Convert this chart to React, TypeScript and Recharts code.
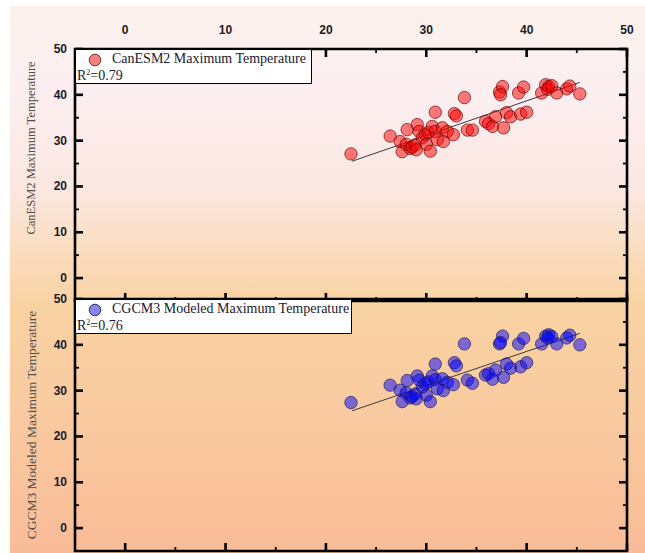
import React from "react";
import { ScatterChart, Scatter, XAxis, YAxis, ReferenceArea, ReferenceLine, Legend } from "recharts";

// ---- data ----
const X_VALUES = [22.5, 26.4, 27.4, 27.6, 28.1, 28.0, 28.4, 28.6, 28.9, 29.0, 29.1, 29.3, 29.6, 29.9, 30.0, 30.2, 30.4, 30.6, 30.9, 30.9, 31.1, 31.6, 31.7, 32.1, 32.7, 32.8, 33.0, 33.8, 34.1, 34.6, 35.9, 36.2, 36.6, 36.9, 37.7, 37.3, 37.6, 37.4, 38.0, 38.4, 39.2, 39.7, 39.4, 40.0, 41.5, 41.9, 42.2, 42.1, 42.5, 43.0, 44.0, 44.3, 45.3];
const CANESM2_Y = [27.1, 31.0, 29.8, 27.6, 32.4, 29.2, 28.3, 28.6, 29.1, 28.0, 33.5, 32.0, 30.6, 31.3, 29.2, 31.8, 27.7, 33.1, 36.2, 32.0, 30.2, 32.8, 29.8, 32.0, 31.3, 35.9, 35.4, 39.4, 32.3, 32.3, 34.2, 33.7, 33.1, 35.2, 32.8, 40.6, 41.8, 40.0, 36.1, 35.2, 40.4, 41.7, 35.8, 36.2, 40.4, 42.2, 41.8, 41.2, 42.0, 40.4, 41.3, 41.9, 40.2];
const CGCM3_Y = [27.4, 31.2, 30.1, 27.6, 32.2, 29.5, 28.4, 28.7, 29.3, 28.2, 33.2, 32.3, 30.8, 31.5, 29.0, 31.9, 27.6, 33.2, 35.8, 32.4, 30.4, 32.6, 30.0, 31.8, 31.3, 36.1, 35.4, 40.2, 32.3, 31.6, 33.4, 33.7, 32.5, 34.5, 32.9, 40.2, 41.9, 40.5, 35.8, 34.9, 40.2, 41.4, 35.2, 36.1, 40.2, 41.9, 42.2, 41.5, 41.8, 40.2, 41.5, 42.1, 40.0];
const FIT_X = [22.6, 45.3];
const FIT_CANESM2 = [25.5, 42.7];
const FIT_CGCM3 = [25.6, 42.5];
const TICKS = [0, 5, 10, 15, 20, 25, 30, 35, 40, 45, 50];
const CANESM2_NAME = "CanESM2 Maximum Temperature";
const CGCM3_NAME = "CGCM3 Modeled Maximum Temperature";
const CANESM2_R2 = "0.79";
const CGCM3_R2 = "0.76";

const canData = X_VALUES.map((x, i) => ({ x, y: CANESM2_Y[i] }));
const cgcmData = X_VALUES.map((x, i) => ({ x, y: CGCM3_Y[i] }));

// ---- layout ----
const W = 645;
const PLOT_W = 552;
const PLOT_H = 252;
const M = 10; // tick margin
const TICK_FONT = { fontFamily: '"Liberation Sans", Arial, sans-serif', fontSize: 12, fontWeight: 700, fill: "#1a1a2a" };

const TopXTick = (p: any) => {
  const v = p.payload.value;
  const major = v % 10 === 0;
  const ay = p.y + M;
  const len = major ? 8 : 4;
  const sw = major ? 2.6 : 1.8;
  return (
    <g>
      <line x1={p.x} x2={p.x} y1={ay} y2={ay + len} stroke="#000" strokeWidth={sw} />
      <line x1={p.x} x2={p.x} y1={ay + PLOT_H} y2={ay + PLOT_H - len} stroke="#000" strokeWidth={sw} />
      {major && (
        <text x={p.x} y={ay - 19} textAnchor="middle" dominantBaseline="central" {...TICK_FONT}>{v}</text>
      )}
    </g>
  );
};

const BottomXTick = (p: any) => {
  const v = p.payload.value;
  const major = v % 10 === 0;
  const ay = p.y - M;
  const len = major ? 8 : 4;
  const sw = major ? 2.6 : 1.8;
  return (
    <g>
      <line x1={p.x} x2={p.x} y1={ay} y2={ay - len} stroke="#000" strokeWidth={sw} />
    </g>
  );
};

const LeftYTick = (p: any) => {
  const v = p.payload.value;
  const major = v % 10 === 0;
  const ax = p.x + M;
  const len = major ? 8 : 4;
  const sw = major ? 2.6 : 1.8;
  return (
    <g>
      <line x1={ax} x2={ax + len} y1={p.y} y2={p.y} stroke="#000" strokeWidth={sw} />
      <line x1={ax + PLOT_W} x2={ax + PLOT_W - len} y1={p.y} y2={p.y} stroke="#000" strokeWidth={sw} />
      {major && (
        <text x={ax - 8} y={p.y} textAnchor="end" dominantBaseline="central" {...TICK_FONT}>{v}</text>
      )}
    </g>
  );
};

const AxisTitle = (props: any) => {
  const vb = props.viewBox || {};
  const cx = vb.x + 16;
  const cy = vb.y + vb.height / 2 + (props.shift || 0);
  return (
    <text
      x={cx}
      y={cy}
      transform={`rotate(-90 ${cx} ${cy})`}
      textAnchor="middle"
      dominantBaseline="central"
      fontFamily='"Liberation Serif", "Times New Roman", serif'
      fontSize={props.size || 12.5}
      fill="#4d4d4d"
    >
      {props.text}
    </text>
  );
};

const makeDot = (fill: string, stroke: string) => (p: any) => (
  <circle cx={p.cx} cy={p.cy} r={6.2} fill={fill} fillOpacity={0.5} stroke={stroke} strokeOpacity={0.65} strokeWidth={1} />
);

const LegendBox = (props: any) => (
  <div
    style={{
      width: props.width,
      height: 35,
      boxSizing: "border-box",
      background: "#fff",
      border: "1.5px solid #000",
      position: "relative",
      fontFamily: '"Liberation Serif", "Times New Roman", serif',
      fontSize: 14,
      color: "#202030",
    }}
  >
    <svg style={{ position: "absolute", left: 12, top: 3 }} width={14} height={14}>
      <circle cx={7} cy={7} r={5.8} fill={props.dot} stroke={props.ring} strokeWidth={1} />
    </svg>
    <span style={{ position: "absolute", left: 36, top: 1, lineHeight: "16px", whiteSpace: "nowrap" }}>{props.name}</span>
    <span style={{ position: "absolute", left: 1, top: 18, lineHeight: "16px", whiteSpace: "nowrap" }}>
      R<span style={{ fontSize: 8, verticalAlign: "top", lineHeight: "10px" }}>2</span>={props.r2}
    </span>
  </div>
);

export default function App() {
  return (
    <div style={{ position: "absolute", left: 0, top: 0, width: W, height: 553, overflow: "hidden", background: "#fff" }}>
      <div
        style={{
          position: "absolute",
          left: 10,
          top: 6,
          width: W - 10,
          height: 547,
          background:
            "linear-gradient(to bottom, #fcf2ec 0%, #fdeef1 16%, #fbe7e0 34%, #fadbbb 46%, #f9d3a4 54%, #f9cba0 72%, #f9bc98 100%)",
        }}
      />
      {/* top panel */}
      <div style={{ position: "absolute", left: 0, top: 0 }}>
        <ScatterChart width={W} height={310} margin={{ top: 19, left: 15, right: 18, bottom: 9 }}>
          <XAxis
            type="number"
            dataKey="x"
            orientation="top"
            domain={[-5, 50]}
            ticks={TICKS}
            interval={0}
            height={30}
            tickSize={0}
            tickMargin={M}
            axisLine={false}
            tickLine={false}
            tick={<TopXTick />}
            allowDataOverflow
          />
          <YAxis
            type="number"
            dataKey="y"
            domain={[-5, 50]}
            ticks={TICKS}
            interval={0}
            width={60}
            tickSize={0}
            tickMargin={M}
            axisLine={false}
            tickLine={false}
            tick={<LeftYTick />}
            allowDataOverflow
            label={<AxisTitle text="CanESM2 Maximum Temperature" shift={-27} size={12.5} />}
          />
          <ReferenceArea x1={-5} x2={50} y1={-5} y2={50} fill="none" stroke="#000" strokeWidth={2.6} ifOverflow="visible" />
          <Scatter name={CANESM2_NAME} data={canData} shape={makeDot("#ff0000", "#5a0000")} isAnimationActive={false} />
          <ReferenceLine
            segment={[
              { x: FIT_X[0], y: FIT_CANESM2[0] },
              { x: FIT_X[1], y: FIT_CANESM2[1] },
            ]}
            stroke="#3a3a3a"
            strokeWidth={1}
          />
          <Legend
            verticalAlign="middle"
            align="center"
            layout="horizontal"
            wrapperStyle={{ top: 49, left: 75, width: "auto", height: "auto" }}
            content={() => <LegendBox width={237} dot="#f58080" ring="#7a3030" name={CANESM2_NAME} r2={CANESM2_R2} />}
          />
        </ScatterChart>
      </div>
      {/* bottom panel */}
      <div style={{ position: "absolute", left: 0, top: 289 }}>
        <ScatterChart width={W} height={300} margin={{ top: 10, left: 15, right: 18, bottom: 8 }}>
          <XAxis
            type="number"
            dataKey="x"
            orientation="bottom"
            domain={[-5, 50]}
            ticks={TICKS}
            interval={0}
            height={30}
            tickSize={0}
            tickMargin={M}
            axisLine={false}
            tickLine={false}
            tick={<BottomXTick />}
            allowDataOverflow
          />
          <YAxis
            type="number"
            dataKey="y"
            domain={[-5, 50]}
            ticks={TICKS}
            interval={0}
            width={60}
            tickSize={0}
            tickMargin={M}
            axisLine={false}
            tickLine={false}
            tick={<LeftYTick />}
            allowDataOverflow
            label={<AxisTitle text="CGCM3 Modeled Maximum Temperature" shift={0} size={13.5} />}
          />
          <ReferenceArea x1={-5} x2={50} y1={-5} y2={50} fill="none" stroke="#000" strokeWidth={2.6} ifOverflow="visible" />
          <Scatter name={CGCM3_NAME} data={cgcmData} shape={makeDot("#0000ff", "#1a1a50")} isAnimationActive={false} />
          <ReferenceLine
            segment={[
              { x: FIT_X[0], y: FIT_CGCM3[0] },
              { x: FIT_X[1], y: FIT_CGCM3[1] },
            ]}
            stroke="#3a3a3a"
            strokeWidth={1}
          />
          <Legend
            verticalAlign="middle"
            align="center"
            layout="horizontal"
            wrapperStyle={{ top: 10, left: 75, width: "auto", height: "auto" }}
            content={() => <LegendBox width={277} dot="#8585f5" ring="#30306a" name={CGCM3_NAME} r2={CGCM3_R2} />}
          />
        </ScatterChart>
      </div>
    </div>
  );
}
